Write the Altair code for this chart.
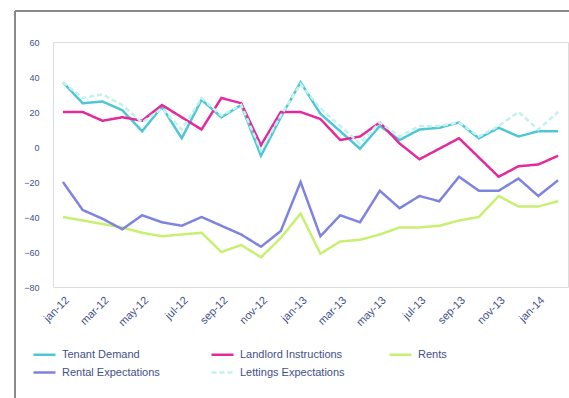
import altair as alt
import pandas as pd

months = ["jan-12","feb-12","mar-12","apr-12","may-12","jun-12","jul-12","aug-12","sep-12","oct-12","nov-12","dec-12",
          "jan-13","feb-13","mar-13","apr-13","may-13","jun-13","jul-13","aug-13","sep-13","oct-13","nov-13","dec-13",
          "jan-14","feb-14"]
tick_months = months[::2][:13]

series_names = ["Tenant Demand", "Landlord Instructions", "Rents", "Rental Expectations", "Lettings Expectations"]
series_colors = ["#4ec6d6", "#e4299d", "#c8f070", "#7f83e0", "#c2f2ee"]
series_dash = [[1, 0], [1, 0], [1, 0], [1, 0], [5, 3]]
series_width = [2.5, 2.5, 2.5, 2.5, 1.8]

tenant_demand = [37, 25, 26, 21, 9, 23, 5, 27, 17, 24, -5, 17, 37, 19, 9, -1, 12, 4, 10, 11, 14, 5, 11, 6, 9, 9]
landlord_instructions = [20, 20, 15, 17, 15, 24, 17, 10, 28, 25, 1, 20, 20, 16, 4, 6, 14, 2, -7, -1, 5, -6, -17, -11, -10, -5]
rents = [-40, -42, -44, -46, -49, -51, -50, -49, -60, -56, -63, -52, -38, -61, -54, -53, -50, -46, -46, -45, -42, -40, -28, -34, -34, -31]
rental_expectations = [-20, -36, -41, -47, -39, -43, -45, -40, -45, -50, -57, -48, -20, -51, -39, -43, -25, -35, -28, -31, -17, -25, -25, -18, -28, -19]
lettings_expectations = [37, 28, 30, 24, 14, 22, 10, 28, 18, 24, -2, 18, 36, 22, 12, 2, 14, 6, 12, 12, 14, 6, 12, 20, 10, 20]

all_values = [tenant_demand, landlord_instructions, rents, rental_expectations, lettings_expectations]
rows = []
for name, vals in zip(series_names, all_values):
    for m, v in zip(months, vals):
        rows.append({"month": m, "series": name, "value": v})
df = pd.DataFrame(rows)

label_color = "#42508a"
font = "Liberation Sans"

lines = alt.Chart(df).mark_line().encode(
    x=alt.X("month:O", sort=months, title=None,
            scale=alt.Scale(type="point", padding=0.5),
            axis=alt.Axis(values=tick_months, labelAngle=-45, labelAlign="right", labelBaseline="top",
                          labelPadding=7, ticks=False, domain=False, grid=False,
                          labelColor=label_color, labelFontSize=11, labelFont=font)),
    y=alt.Y("value:Q", title=None,
            scale=alt.Scale(domain=[-80, 60], nice=False),
            axis=alt.Axis(values=list(range(-80, 61, 20)), ticks=False, domain=False, grid=False,
                          labelColor=label_color, labelFontSize=9, labelFont=font, labelPadding=14)),
    color=alt.Color("series:N", sort=series_names,
                    scale=alt.Scale(domain=series_names, range=series_colors),
                    legend=alt.Legend(title=None, orient="none", legendX=-21, legendY=300,
                                      direction="horizontal", columns=3, gridAlign="all",
                                      symbolType="stroke", symbolSize=484, symbolStrokeWidth=2.5,
                                      labelFont=font, labelFontSize=11, labelColor=label_color,
                                      labelOffset=5, columnPadding=39, rowPadding=0)),
    strokeDash=alt.StrokeDash("series:N", sort=series_names,
                              scale=alt.Scale(domain=series_names, range=series_dash),
                              legend=alt.Legend(title=None)),
    strokeWidth=alt.StrokeWidth("series:N", sort=series_names,
                                scale=alt.Scale(domain=series_names, range=series_width),
                                legend=None),
)

frame_top = alt.Chart(df).mark_rule(color="#8a8a8a", strokeWidth=2).encode(
    x=alt.value(-38), x2=alt.value(600), y=alt.value(-31))
frame_left = alt.Chart(df).mark_rule(color="#8a8a8a", strokeWidth=2).encode(
    x=alt.value(-38), y=alt.value(-31), y2=alt.value(400))

chart = alt.layer(frame_top, frame_left, lines).properties(
    width=515, height=245,
    autosize=alt.AutoSizeParams(type="none"),
    padding={"left": 53, "top": 42, "right": 1, "bottom": 111},
).configure_view(stroke=None).configure(background="white")

chart.save("out.html", embed_options={"renderer": "svg", "actions": False})
